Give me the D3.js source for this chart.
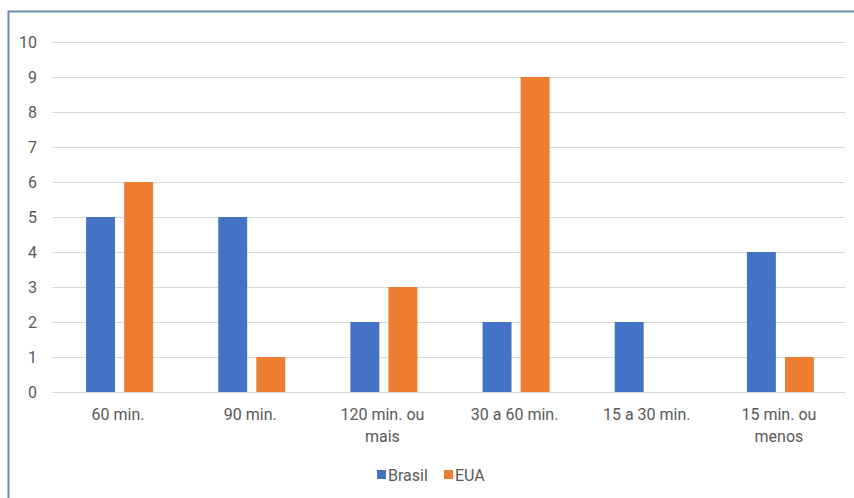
<!DOCTYPE html>
<html><head><meta charset="utf-8">
<script src="https://cdn.jsdelivr.net/npm/d3@7"></script>
<style>body{margin:0;background:#fff}svg{display:block}</style>
</head><body>
<script>
const categories = ["60 min.", "90 min.", "120 min. ou mais", "30 a 60 min.", "15 a 30 min.", "15 min. ou menos"];
const brasil = [5, 5, 2, 2, 2, 4];
const eua = [6, 1, 3, 9, 0, 1];
const seriesNames = ["Brasil", "EUA"];
const yTicks = [0,1,2,3,4,5,6,7,8,9,10];
const colors = ["#4472C4", "#ED7D31"];
const catLines = [["60 min."],["90 min."],["120 min. ou","mais"],["30 a 60 min."],["15 a 30 min."],["15 min. ou","menos"]];

const W = 854, H = 498;
const svg = d3.select("body").append("svg").attr("width", W).attr("height", H);
svg.append("rect").attr("width", W).attr("height", H).attr("fill", "#fff");
// frame
svg.append("path").attr("d", `M8.5,${H} L8.5,11.5 L${W},11.5`).attr("fill","none").attr("stroke","#6a8caf").attr("stroke-width",2);

const x0 = d3.scaleBand().domain(categories).range([52, 845]);
const y = d3.scaleLinear().domain([0, 10]).range([392, 42]);
const x1 = d3.scaleBand().domain(seriesNames).range([-32, 35]).paddingInner(0.24);

const ff = "Roboto, 'Liberation Sans', sans-serif";
const fs = 16;
// grid
svg.append("g").selectAll("line").data(yTicks).join("line")
  .attr("x1", 52).attr("x2", 845)
  .attr("y1", d => Math.round(y(d)) + 0.5).attr("y2", d => Math.round(y(d)) + 0.5)
  .attr("stroke", "#d9d9d9").attr("stroke-width", 1);
// y labels
svg.append("g").selectAll("text").data(yTicks).join("text")
  .attr("x", 37).attr("y", d => y(d)).attr("dy", "0.35em").attr("text-anchor", "end")
  .attr("font-family", ff).attr("font-size", fs).attr("fill", "#595959").text(d => d);

const data = categories.map((c, i) => ({ c, vals: [brasil[i], eua[i]] }));
const g = svg.append("g").selectAll("g").data(data).join("g")
  .attr("transform", d => `translate(${x0(d.c) + x0.bandwidth()/2},0)`);
g.selectAll("rect").data(d => d.vals.map((v, j) => ({ v, s: seriesNames[j], j })))
  .join("rect")
  .attr("x", d => x1(d.s)).attr("width", x1.bandwidth())
  .attr("y", d => y(d.v)).attr("height", d => y(0) - y(d.v))
  .attr("fill", d => colors[d.j]);

// x labels
categories.forEach((c, i) => {
  const t = svg.append("text").attr("text-anchor", "middle")
    .attr("font-family", ff).attr("font-size", fs).attr("fill", "#595959");
  catLines[i].forEach((ln, k) => {
    t.append("tspan").attr("x", x0(c) + x0.bandwidth()/2).attr("y", 420 + k * 21.5).text(ln);
  });
});

// legend
const leg = [{ n: "Brasil", x: 377 }, { n: "EUA", x: 444 }];
leg.forEach((l, i) => {
  svg.append("rect").attr("x", l.x).attr("y", 470).attr("width", 9).attr("height", 9).attr("fill", colors[i]);
  svg.append("text").attr("x", l.x + 11).attr("y", 475).attr("dy", "0.35em")
    .attr("font-family", ff).attr("font-size", fs).attr("fill", "#595959").text(l.n);
});
</script>
</body></html>
